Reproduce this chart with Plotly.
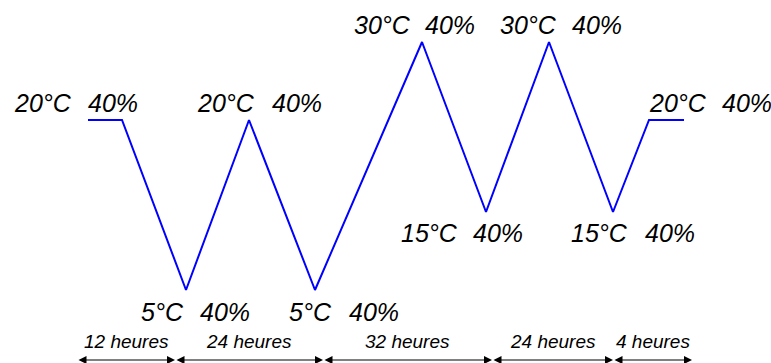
import plotly.graph_objects as go

# Schematic cycle profile (schematic units)
x_pts = [88, 122, 186, 249, 315, 422, 486, 549, 613, 649, 684]
levels = [243, 243, 73, 243, 73, 321, 151, 321, 151, 243, 243]

# Labels of the set points
temps = [20, 5, 20, 5, 30, 15, 30, 15, 20]
hums = [40, 40, 40, 40, 40, 40, 40, 40, 40]

# Durations and the schematic span boundaries of each step
durations = [12, 24, 32, 24, 4]
span_edges = [77, 175, 323, 492, 613, 692]

# label placement (layout): left x of temperature text, left x of humidity text, level of text centre
label_pos = [
    (12, 86, 260), (139, 198, 51), (195, 270, 260), (287, 347, 51),
    (352, 423, 338), (399, 471, 130), (498, 570, 338), (569, 643, 130),
    (647, 720, 260),
]

W, H = 771, 363
fig = go.Figure()
fig.add_trace(go.Scatter(x=x_pts, y=levels, mode="lines",
                         line=dict(color="#0000FF", width=2), hoverinfo="skip"))

font_big = dict(family="Liberation Sans, Arial, sans-serif", size=25, color="black", style="italic")
font_small = dict(family="Liberation Sans, Arial, sans-serif", size=19, color="black", style="italic")

ann = []
for (tx, hx, ty), t, h in zip(label_pos, temps, hums):
    ann.append(dict(x=tx, y=ty, xref="x", yref="y", text=f"{t}°C", showarrow=False,
                    xanchor="left", yanchor="middle", font=font_big))
    ann.append(dict(x=hx, y=ty, xref="x", yref="y", text=f"{h}%", showarrow=False,
                    xanchor="left", yanchor="middle", font=font_big))

arrow_level = 3
text_level = 22
for i, d in enumerate(durations):
    a, b = span_edges[i], span_edges[i + 1]
    ann.append(dict(x=b, y=arrow_level, ax=a, ay=arrow_level, xref="x", yref="y",
                    axref="x", ayref="y", text="", showarrow=True,
                    arrowhead=2, startarrowhead=2, arrowside="end+start",
                    arrowsize=1.6, startarrowsize=1.6, arrowwidth=1, arrowcolor="black",
                    standoff=0, startstandoff=0))
    ann.append(dict(x=(a + b) / 2, y=text_level, xref="x", yref="y", text=f"{d} heures",
                    showarrow=False, xanchor="center", yanchor="middle", font=font_small))

fig.update_layout(
    width=W, height=H, margin=dict(l=0, r=0, t=0, b=0),
    paper_bgcolor="white", plot_bgcolor="white", showlegend=False,
    xaxis=dict(range=[0, W], visible=False, fixedrange=True),
    yaxis=dict(range=[0, H], visible=False, fixedrange=True),
    annotations=ann,
)
fig.write_html("out.html", config={"displayModeBar": False},
               post_script="document.body.style.margin='0';document.body.style.overflow='hidden';")
